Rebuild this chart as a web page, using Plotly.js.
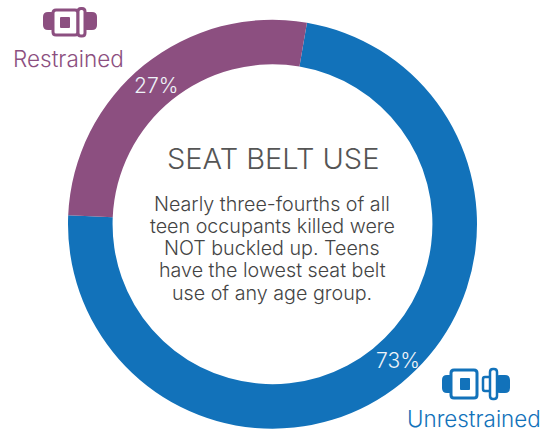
<!DOCTYPE html>
<html>
<head>
<meta charset="utf-8">
<script src="https://cdn.plot.ly/plotly-3.0.1.min.js"></script>
<style>html,body{margin:0;padding:0;background:#fff}</style>
</head>
<body>
<div id="chart" style="width:542px;height:431px"></div>
<script>
const categories = ["Unrestrained", "Restrained"];
const values = [73, 27];
const percentLabels = ["73%", "27%"];
const colors = ["#1272BA", "#8C4F80"];
const heading = "SEAT BELT USE";
const bodyLines = [
  "Nearly three-fourths of all",
  "teen occupants killed were",
  "NOT buckled up. Teens",
  "have the lowest seat belt",
  "use of any age group."
];
const W = 542, H = 431;
const FONT = "Inter, Lato, sans-serif";
const px = x => x / W, py = y => 1 - y / H;
function rr(x0, y0, x1, y1, r) {
  return `M${px(x0 + r)},${py(y0)} L${px(x1 - r)},${py(y0)} Q${px(x1)},${py(y0)} ${px(x1)},${py(y0 + r)} ` +
         `L${px(x1)},${py(y1 - r)} Q${px(x1)},${py(y1)} ${px(x1 - r)},${py(y1)} L${px(x0 + r)},${py(y1)} ` +
         `Q${px(x0)},${py(y1)} ${px(x0)},${py(y1 - r)} L${px(x0)},${py(y0 + r)} Q${px(x0)},${py(y0)} ${px(x0 + r)},${py(y0)} Z`;
}
function shape(path, fill, line, lw) {
  return {type: "path", xref: "paper", yref: "paper", path: path,
          fillcolor: fill, line: {color: line || fill, width: lw || 0}};
}
const restrainedIcon = c => [
  shape(rr(43, 12, 56, 30, 5), c),
  shape(rr(82, 12, 97, 30, 5), c),
  shape(rr(53, 10, 78, 35, 3), "#ffffff", c, 3),
  shape(rr(60, 17, 70, 28, 1), c),
  shape(rr(78, 8.5, 85, 36, 3), "#ffffff", c, 3)
];
const unrestrainedIcon = c => [
  shape(rr(442, 375, 455, 393, 5), c),
  shape(rr(495, 375, 510, 393, 5), c),
  shape(rr(451, 370, 477, 398, 3), "#ffffff", c, 3),
  shape(rr(460, 378, 470, 390, 1), c),
  shape(rr(483, 377, 491, 391, 2), "#ffffff", c, 2.5),
  shape(rr(490, 369, 497, 399, 3), "#ffffff", c, 2.5)
];
const data = [{
  type: "pie",
  labels: categories,
  values: values,
  textinfo: "none",
  hole: 0.782,
  sort: false,
  direction: "clockwise",
  rotation: 9.7,
  marker: {colors: colors, line: {width: 0}},
  domain: {x: [68 / W, 477 / W], y: [1 - 429 / H, 1 - 19.5 / H]},
  showlegend: false
}];
const annotations = [
  {text: percentLabels[1], x: px(156), y: py(85), font: {family: FONT, size: 21, weight: 300, color: "#eef3f8"}},
  {text: percentLabels[0], x: px(398), y: py(360), font: {family: FONT, size: 21, weight: 300, color: "#eef3f8"}},
  {text: heading, x: px(273), y: py(158), font: {family: FONT, size: 29, weight: 300, color: "#555555"}},
  ...bodyLines.map((t, i) => ({text: t, x: px(272), y: py(203.5 + i * 22.3), font: {family: FONT, size: 19.7, weight: 300, color: "#444444"}})),
  {text: categories[1], x: px(68), y: py(58), font: {family: FONT, size: 22.5, weight: 300, color: "#8C4F80"}},
  {text: categories[0], x: px(474), y: py(418), font: {family: FONT, size: 22.4, weight: 300, color: "#1272BA"}}
].map(a => Object.assign({xref: "paper", yref: "paper", showarrow: false, xanchor: "center", yanchor: "middle"}, a));
const layout = {
  width: W, height: H,
  margin: {l: 0, r: 0, t: 0, b: 0},
  paper_bgcolor: "#ffffff",
  showlegend: false,
  annotations: annotations,
  shapes: [...restrainedIcon("#8C4F80"), ...unrestrainedIcon("#1272BA")]
};
Plotly.newPlot("chart", data, layout, {displayModeBar: false, staticPlot: true});
</script>
</body>
</html>
